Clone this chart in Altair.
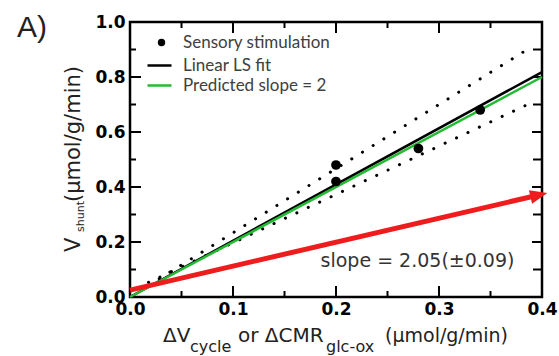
import altair as alt
import pandas as pd

# ---------------- data ----------------
obs_x = [0.20, 0.20, 0.28, 0.34]
obs_y = [0.48, 0.42, 0.54, 0.68]
obs_name = "Sensory stimulation"

fit_x = [0.0, 0.4]
fit_y = [0.0, 0.818]
fit_name = "Linear LS fit"
pred_x = [0.0, 0.4]
pred_y = [0.0, 0.80]
pred_name = "Predicted slope = 2"

upper_x = [0.018, 0.39]
upper_y = [0.042, 0.910]
lower_x = [0.018, 0.39]
lower_y = [0.053, 0.707]

arrow_x = [0.0, 0.397]
arrow_y = [0.025, 0.371]
head_x = [0.397]
head_y = [0.371]

x_label_vals = [0.0, 0.1, 0.2, 0.3, 0.4]
y_label_vals = [0.0, 0.2, 0.4, 0.6, 0.8, 1.0]
x_major = [0.1, 0.2, 0.3]
x_minor = [0.05, 0.15, 0.25, 0.35]
y_major = [0.2, 0.4, 0.6, 0.8]
y_minor = [0.1, 0.3, 0.5, 0.7, 0.9]

slope_text = ["slope = 2.05(\u00b10.09)"]
slope_x = [0.185]
slope_y = [0.109]

W, H = 412, 275
GREEN = "#22bb33"
RED = "#ee1c1c"

xs = alt.Scale(domain=[0, 0.4], nice=False, zero=False)
ys = alt.Scale(domain=[0, 1.0], nice=False, zero=False)
x_axis = alt.Axis(values=x_label_vals, format=".1f", title=None, ticks=False, domain=False,
                  grid=False, labelFont="DejaVu Sans", labelFontWeight="bold", labelFontSize=17,
                  labelColor="black", labelPadding=4, labelFlush=False, labelOverlap=False)
y_axis = alt.Axis(values=y_label_vals, format=".1f", title=None, ticks=False, domain=False,
                  grid=False, labelFont="DejaVu Sans", labelFontWeight="bold", labelFontSize=17,
                  labelColor="black", labelPadding=5, labelFlush=False, labelOverlap=False)
X = alt.X("x:Q", scale=xs, axis=x_axis)
Y = alt.Y("y:Q", scale=ys, axis=y_axis)

LEG_FONT = dict(labelFont="Lato", labelFontSize=17, labelColor="#404040", padding=0,
                labelLimit=300, title=None, orient="none")
LINE_LEG = dict(symbolType="stroke", symbolSize=576, symbolStrokeWidth=2.5, labelOffset=10)

# ---------------- layers ----------------
fit_line = alt.Chart(pd.DataFrame({"x": fit_x, "y": fit_y, "s": [fit_name] * 2})).mark_line(
    strokeWidth=2.5).encode(
    x=X, y=Y,
    stroke=alt.Stroke("s:N", scale=alt.Scale(domain=[fit_name], range=["black"]),
                      legend=alt.Legend(legendX=16, legendY=30, **LINE_LEG, **LEG_FONT)),
)
pred_line = alt.Chart(pd.DataFrame({"x": pred_x, "y": pred_y, "s": [pred_name] * 2})).mark_line(
    strokeWidth=2.5).encode(
    x=X, y=Y,
    color=alt.Color("s:N", scale=alt.Scale(domain=[pred_name], range=[GREEN]),
                    legend=alt.Legend(legendX=16, legendY=50, **LINE_LEG, **LEG_FONT)),
)

bands_df = pd.DataFrame({
    "x": upper_x + lower_x,
    "y": upper_y + lower_y,
    "band": ["upper"] * 2 + ["lower"] * 2,
})
bands = alt.Chart(bands_df).mark_line(color="black", strokeWidth=3.0, strokeDash=[0.1, 12.5],
                                      strokeCap="round").encode(x=X, y=Y, detail="band:N")

arrow = alt.Chart(pd.DataFrame({"x": arrow_x, "y": arrow_y})).mark_line(
    color=RED, strokeWidth=5).encode(x=X, y=Y)
head = alt.Chart(pd.DataFrame({"x": head_x, "y": head_y})).mark_point(
    shape="M-1,-0.8L1,0L-1,0.8Z", size=300, filled=True, color=RED, opacity=1,
    angle=346.75).encode(x=X, y=Y)

pts_df = pd.DataFrame({"x": obs_x, "y": obs_y, "obs": [obs_name] * len(obs_x)})
points = alt.Chart(pts_df).mark_circle(size=95, opacity=1).encode(
    x=X, y=Y,
    fill=alt.Fill("obs:N", scale=alt.Scale(domain=[obs_name], range=["black"]),
                  legend=alt.Legend(legendX=23, legendY=12, symbolType="circle", symbolSize=55,
                                    symbolStrokeWidth=0, labelOffset=13, **LEG_FONT)),
)

slope = alt.Chart(pd.DataFrame({"x": slope_x, "y": slope_y, "t": slope_text})).mark_text(
    align="left", baseline="alphabetic", font="DejaVu Sans", fontSize=19, color="#333333"
).encode(x=X, y=Y, text="t:N")

# inward ticks on all four sides
def tick_layer(vals, axis, side, length):
    df = pd.DataFrame({axis: vals})
    m = alt.Chart(df).mark_rule(color="black", strokeWidth=2)
    if axis == "x":
        if side == "bottom":
            return m.encode(x=X, y=alt.value(H), y2=alt.value(H - length))
        return m.encode(x=X, y=alt.value(0), y2=alt.value(length))
    if side == "left":
        return m.encode(y=Y, x=alt.value(0), x2=alt.value(length))
    return m.encode(y=Y, x=alt.value(W), x2=alt.value(W - length))

ticks = [
    tick_layer(x_major, "x", "bottom", 11), tick_layer(x_minor, "x", "bottom", 6),
    tick_layer(x_major, "x", "top", 11), tick_layer(x_minor, "x", "top", 6),
    tick_layer(y_major, "y", "left", 11), tick_layer(y_minor, "y", "left", 6),
    tick_layer(y_major, "y", "right", 10), tick_layer(y_minor, "y", "right", 9),
]

# axis titles with subscripts, and panel letter
def txt(s, x, y, size, angle=0, font="DejaVu Sans", color="#222222"):
    return alt.Chart(pd.DataFrame({"t": [s]})).mark_text(
        align="left", baseline="alphabetic", font=font, fontSize=size, color=color, angle=angle
    ).encode(text="t:N", x=alt.value(x), y=alt.value(y))

xtitle = [
    txt("\u0394V", 33, 320, 20),
    txt("cycle", 60, 330, 16),
    txt("or \u0394CMR", 108, 320, 20),
    txt("glc-ox", 196, 330, 16),
    txt("(\u00b5mol/g/min)", 255, 320, 19),
]
ytitle = [
    txt("V", -50, 230, 21, angle=270),
    txt("shunt", -46, 210, 11, angle=270),
    txt("(\u00b5mol/g/min)", -50, 180, 21, angle=270),
]
letter = txt("A)", -113, 15, 30, font="Liberation Sans")

chart = alt.layer(
    *ticks, bands, fit_line, pred_line, arrow, head, points, slope, *xtitle, *ytitle, letter
).properties(
    width=W, height=H,
    padding={"left": 130, "top": 22, "right": 17, "bottom": 59},
    autosize=alt.AutoSizeParams(type="none"),
    background="white",
).configure_view(stroke="black", strokeWidth=2.5)

chart.save("out.html", embed_options={"renderer": "svg", "actions": False})
